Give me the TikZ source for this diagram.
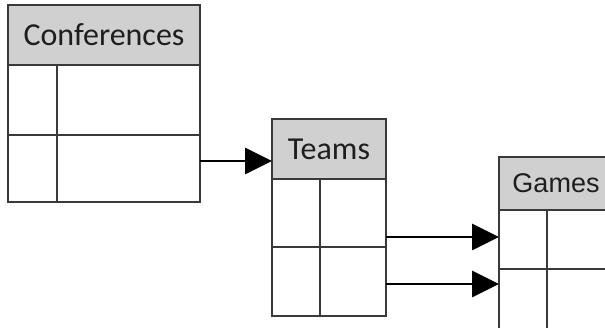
\documentclass[tikz,border=0pt]{standalone}
\usepackage{fontspec}
\setmainfont{Carlito}
\newfontfamily\gamesfont{Liberation Sans}
\usetikzlibrary{arrows.meta}
\definecolor{linec}{HTML}{3A3A3A}
\definecolor{headc}{HTML}{D0D0D0}
\definecolor{textc}{HTML}{1E1E1E}
\begin{document}
\begin{tikzpicture}[x=1pt,y=-1pt,
  cell/.style={draw=linec, line width=1.4pt, fill=white, inner sep=0pt, outer sep=0pt, anchor=north west},
  head/.style={cell, fill=headc, text=textc, font=\fontsize{32}{32}\selectfont},
  arr/.style={draw=black, line width=2.8pt, -{Triangle[length=27pt,width=26pt]}}]
\useasboundingbox (0,0) rectangle (605,328);
\clip (0,0) rectangle (605,328);
% Conferences
\node[head, minimum width=192pt, minimum height=60pt] (confh) at (8,5) {Conferences};
\node[cell, minimum width=49pt, minimum height=70pt] (conf1a) at (8,65) {};
\node[cell, minimum width=143pt, minimum height=70pt] (conf1b) at (57,65) {};
\node[cell, minimum width=49pt, minimum height=67pt] (conf2a) at (8,135) {};
\node[cell, minimum width=143pt, minimum height=67pt] (conf2b) at (57,135) {};
% Teams
\node[head, minimum width=114pt, minimum height=60pt] (teamsh) at (272,119) {Teams};
\node[cell, minimum width=48pt, minimum height=68pt] (teams1a) at (272,179) {};
\node[cell, minimum width=66pt, minimum height=68pt] (teams1b) at (320,179) {};
\node[cell, minimum width=48pt, minimum height=69pt] (teams2a) at (272,247) {};
\node[cell, minimum width=66pt, minimum height=69pt] (teams2b) at (320,247) {};
% Games
\node[head, minimum width=114pt, minimum height=53pt, font=\gamesfont\fontsize{27}{27}\selectfont] (gamesh) at (499,157) {Games};
\node[cell, minimum width=48pt, minimum height=59pt] (games1a) at (499,210) {};
\node[cell, minimum width=66pt, minimum height=59pt] (games1b) at (547,210) {};
\node[cell, minimum width=48pt, minimum height=70pt] (games2a) at (499,269) {};
\node[cell, minimum width=66pt, minimum height=70pt] (games2b) at (547,269) {};
% connectors
\coordinate (s1) at ([yshift=7.5pt]conf2b.east);
\draw[arr] (s1) -- (s1 -| teamsh.west);
\coordinate (s2) at ([yshift=-24pt]teams1b.east);
\draw[arr] (s2) -- (s2 -| games1a.west);
\coordinate (s3) at ([yshift=-2.5pt]teams2b.east);
\draw[arr] (s3) -- (s3 -| games2a.west);
\end{tikzpicture}
\end{document}
